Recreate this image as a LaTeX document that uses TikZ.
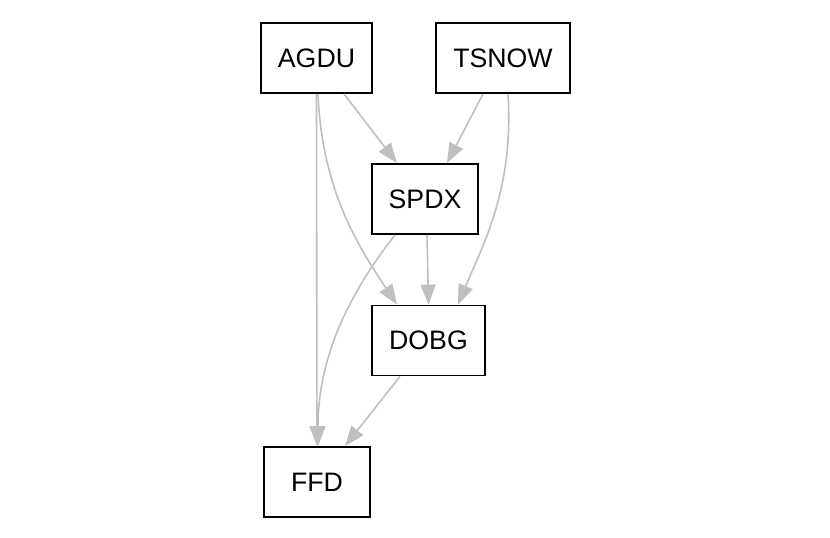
\documentclass[tikz,border=0pt]{standalone}
\usepackage{fontspec}
\setmainfont{Liberation Sans}
\usetikzlibrary{positioning, arrows.meta}

\begin{document}
\begin{tikzpicture}[
        x=1pt, y=-1pt,
        var/.style={draw, rectangle, line width=1.8pt, minimum width=106pt, minimum height=70pt, inner xsep=17pt, align=center, font=\fontsize{26.7pt}{32pt}\selectfont},
        link/.style={-{Triangle[length=20pt, width=15pt]}, draw=black!25, line width=1.6pt}
    ]
    \useasboundingbox (0,0) rectangle (830,538);

    % Variablen
    \node[var] (agdu) at (316.5, 58) {AGDU};
    \node[var] (tsnow) at (503, 58) {TSNOW};
    \node[var] (spdx) at (425, 199) {SPDX};
    \node[var] (dobg) at (428.5, 340.5) {DOBG};
    \node[var] (ffd) at (317, 482) {FFD};

    % Kanten
    \draw[link] ([xshift=27.5pt]agdu.south) -- ([xshift=-28pt]spdx.north);
    \draw[link] ([xshift=-20pt]tsnow.south) -- ([xshift=22pt]spdx.north);
    \draw[link] ([xshift=1.5pt]agdu.south) .. controls +(4,95) and +(-40,-60) .. ([xshift=-31.5pt]dobg.north);
    \draw[link] ([xshift=5pt]tsnow.south) .. controls +(6,95) and +(25,-60) .. ([xshift=29.5pt]dobg.north);
    \draw[link] ([xshift=2pt]spdx.south) -- (dobg.north);
    \draw[link] ([xshift=-30pt]spdx.south) .. controls +(-35,45) and +(0,-100) .. ([xshift=1pt]ffd.north);
    \draw[link] (agdu.south) -- (ffd.north);
    \draw[link] ([xshift=-28.5pt]dobg.south) -- ([xshift=28pt]ffd.north);

\end{tikzpicture}
\end{document}
